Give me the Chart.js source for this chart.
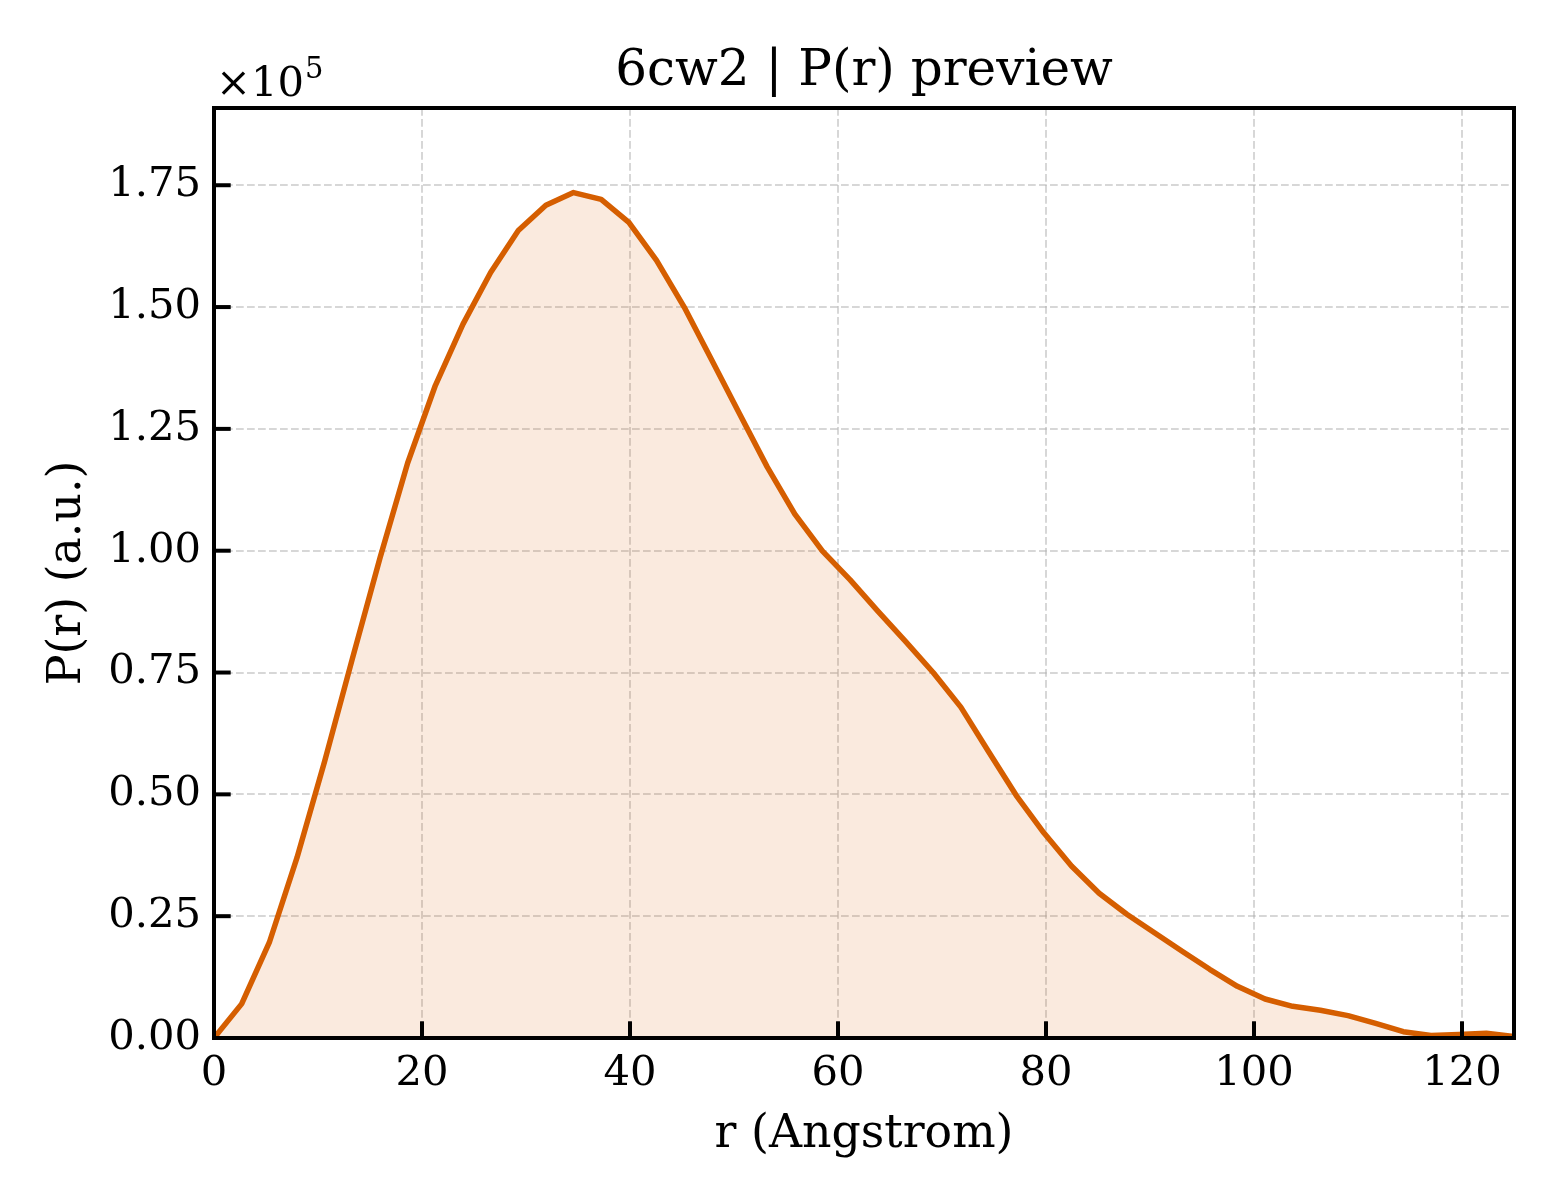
<!DOCTYPE html>
<html><head><meta charset="utf-8">
<script src="https://cdn.jsdelivr.net/npm/chart.js@4.4.1/dist/chart.umd.min.js"></script>
<style>html,body{margin:0;padding:0;background:#fff;} #wrap{width:1560px;height:1200px;}</style>
</head><body><div id="wrap"><canvas id="c" width="1560" height="1200" style="width:1560px;height:1200px"></canvas></div>
<script>
const titleText = '6cw2 | P(r) preview';
const xLabel = 'r (Angstrom)';
const yLabel = 'P(r) (a.u.)';
const offsetBase = '\u00d710';
const offsetExp = '5';

const rValues = [0, 2.66, 5.32, 7.98, 10.64, 13.30, 15.96, 18.62, 21.28, 23.94,
  26.60, 29.26, 31.91, 34.57, 37.23, 39.89, 42.55, 45.21, 47.87, 50.53,
  53.19, 55.85, 58.51, 61.17, 63.83, 66.49, 69.15, 71.81, 74.47, 77.13,
  79.79, 82.45, 85.11, 87.77, 90.43, 93.09, 95.74, 98.40, 101.06, 103.72,
  106.38, 109.04, 111.70, 114.36, 117.02, 119.68, 122.34, 125.0];
const prValues = [0, 7000, 19600, 37000, 56800, 77800, 98500, 118000, 133900, 146500,
  157100, 165700, 170900, 173500, 172100, 167400, 159600, 150000, 139100, 128100,
  117200, 107500, 99900, 94000, 87600, 81400, 75000, 67900, 58800, 49800,
  42100, 35300, 29700, 25400, 21600, 17800, 14100, 10600, 8000, 6500,
  5700, 4600, 3000, 1300, 500, 700, 1000, 300];

const xTicks = [0, 20, 40, 60, 80, 100, 120];
const yTicks = [0, 25000, 50000, 75000, 100000, 125000, 150000, 175000];
const yTickLabels = ['0.00', '0.25', '0.50', '0.75', '1.00', '1.25', '1.50', '1.75'];

const FONT = "'DejaVu Serif', 'Liberation Serif', serif";
const lineColor = '#D55E00';
const fillColor = 'rgba(213,94,0,0.13)';
const gridColor = 'rgba(176,176,176,0.5)';

Chart.defaults.font.family = FONT;
Chart.defaults.color = '#000';

const frame = {
  id: 'frame',
  afterDatasetsDraw(chart) {
    const {ctx, chartArea: a, scales} = chart;
    ctx.save();
    ctx.strokeStyle = '#000';
    ctx.lineWidth = 4;
    ctx.lineCap = 'butt';
    const tl = 16.7;
    xTicks.forEach(v => {
      const px = scales.x.getPixelForValue(v);
      ctx.beginPath(); ctx.moveTo(px, a.bottom); ctx.lineTo(px, a.bottom - tl); ctx.stroke();
    });
    yTicks.forEach(v => {
      const py = scales.y.getPixelForValue(v);
      ctx.beginPath(); ctx.moveTo(a.left, py); ctx.lineTo(a.left + tl, py); ctx.stroke();
    });
    ctx.lineJoin = 'miter';
    ctx.strokeRect(a.left, a.top, a.right - a.left, a.bottom - a.top);
    ctx.restore();
  },
  afterDraw(chart) {
    const {ctx, chartArea: a} = chart;
    ctx.save();
    ctx.fillStyle = '#000';
    ctx.textAlign = 'center';
    ctx.textBaseline = 'alphabetic';
    ctx.font = "50px " + FONT;
    ctx.fillText(titleText, (a.left + a.right) / 2, 85);
    ctx.font = "45.8px " + FONT;
    ctx.fillText(xLabel, (a.left + a.right) / 2, 1147);
    ctx.save();
    ctx.translate(80, (a.top + a.bottom) / 2);
    ctx.rotate(-Math.PI / 2);
    ctx.fillText(yLabel, 0, 0);
    ctx.restore();
    ctx.textAlign = 'left';
    ctx.font = "41.7px " + FONT;
    ctx.fillText(offsetBase, 216, 96);
    const w = ctx.measureText(offsetBase).width;
    ctx.font = "29px " + FONT;
    ctx.fillText(offsetExp, 216 + w + 1, 78);
    ctx.restore();
  }
};

new Chart(document.getElementById('c'), {
  type: 'line',
  data: {
    datasets: [{
      data: rValues.map((r, i) => ({x: r, y: prValues[i]})),
      borderColor: lineColor,
      backgroundColor: fillColor,
      borderWidth: 5.5,
      fill: 'origin',
      tension: 0,
      pointRadius: 0,
      borderJoinStyle: 'round',
      borderCapStyle: 'round'
    }]
  },
  options: {
    responsive: false,
    animation: false,
    devicePixelRatio: 1,
    layout: {padding: {top: 108, right: 46, left: 0, bottom: 0}},
    plugins: {legend: {display: false}, title: {display: false}, tooltip: {enabled: false}},
    scales: {
      x: {
        type: 'linear', min: 0, max: 125,
        ticks: {stepSize: 20, padding: 11, font: {size: 41.7}, color: '#000', maxRotation: 0,
          callback: v => String(v)},
        afterBuildTicks: s => { s.ticks = xTicks.map(v => ({value: v})); },
        afterFit: s => { s.height = 162; },
        grid: {color: gridColor, lineWidth: 2, drawTicks: false, tickLength: 0},
        border: {display: false, dash: [7.7, 3.3]}
      },
      y: {
        type: 'linear', min: 0, max: Math.max(...prValues) * 1.1,
        ticks: {stepSize: 25000, padding: 13, font: {size: 41.7}, color: '#000',
          callback: v => yTickLabels[yTicks.indexOf(v)]},
        afterBuildTicks: s => { s.ticks = yTicks.map(v => ({value: v})); },
        afterFit: s => { s.width = 214; },
        grid: {color: gridColor, lineWidth: 2, drawTicks: false, tickLength: 0},
        border: {display: false, dash: [7.7, 3.3]}
      }
    }
  },
  plugins: [frame]
});
</script></body></html>
